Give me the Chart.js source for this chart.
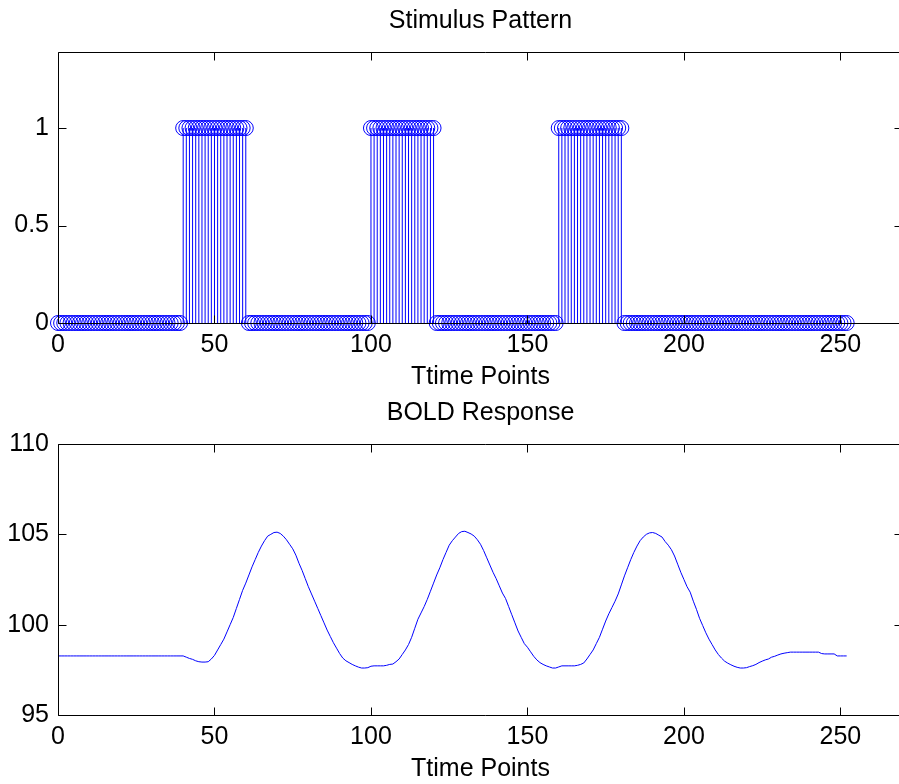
<!DOCTYPE html>
<html>
<head>
<meta charset="utf-8">
<title>Stimulus Pattern / BOLD Response</title>
<script src="https://cdn.jsdelivr.net/npm/chart.js@4/dist/chart.umd.min.js"></script>
<style>
html, body { margin: 0; padding: 0; background: #fff; overflow: hidden; }
#wrap { position: relative; width: 899px; height: 784px; overflow: hidden; }
canvas { position: absolute; left: 0; }
#stimChart { top: 0; }
#boldChart { top: 392px; }
</style>
</head>
<body>
<div id="wrap">
<canvas id="stimChart" width="913" height="392"></canvas>
<canvas id="boldChart" width="913" height="392"></canvas>
</div>
<script>
// tick labels
var xTicks = [0, 50, 100, 150, 200, 250];
var stimTicks = [0, 0.5, 1];
var boldTicks = [95, 100, 105, 110];

// stimulus (one value per time point, 0..252)
var stimulus = [
	0,0,0,0,0,0,0,0,0,0,  0,0,0,0,0,0,0,0,0,0,
	0,0,0,0,0,0,0,0,0,0,  0,0,0,0,0,0,0,0,0,0,
	1,1,1,1,1,1,1,1,1,1,  1,1,1,1,1,1,1,1,1,1,
	1,0,0,0,0,0,0,0,0,0,  0,0,0,0,0,0,0,0,0,0,
	0,0,0,0,0,0,0,0,0,0,  0,0,0,0,0,0,0,0,0,0,
	1,1,1,1,1,1,1,1,1,1,  1,1,1,1,1,1,1,1,1,1,
	1,0,0,0,0,0,0,0,0,0,  0,0,0,0,0,0,0,0,0,0,
	0,0,0,0,0,0,0,0,0,0,  0,0,0,0,0,0,0,0,0,0,
	1,1,1,1,1,1,1,1,1,1,  1,1,1,1,1,1,1,1,1,1,
	1,0,0,0,0,0,0,0,0,0,  0,0,0,0,0,0,0,0,0,0,
	0,0,0,0,0,0,0,0,0,0,  0,0,0,0,0,0,0,0,0,0,
	0,0,0,0,0,0,0,0,0,0,  0,0,0,0,0,0,0,0,0,0,
	0,0,0,0,0,0,0,0,0,0,  0,0,0
];

// BOLD response (one value per time point, 0..252)
var bold = [
	98.27,98.27,98.27,98.27,98.27,98.27,98.27,98.27,98.27,98.27,
	98.27,98.27,98.27,98.27,98.27,98.27,98.27,98.27,98.27,98.27,
	98.27,98.27,98.27,98.27,98.27,98.27,98.27,98.27,98.27,98.27,
	98.27,98.27,98.27,98.27,98.27,98.27,98.27,98.27,98.27,98.27,
	98.27,98.2,98.13,98.08,98.0,97.95,97.93,97.93,97.95,98.1,
	98.3,98.6,98.9,99.2,99.6,100.0,100.4,100.9,101.4,101.9,
	102.3,102.75,103.2,103.6,104.0,104.35,104.65,104.9,105.0,105.1,
	105.12,105.05,104.9,104.7,104.45,104.2,103.85,103.4,103.0,102.55,
	102.1,101.7,101.3,100.9,100.5,100.1,99.7,99.35,99.0,98.7,
	98.4,98.15,98.0,97.9,97.8,97.72,97.65,97.6,97.6,97.62,
	97.7,97.72,97.72,97.72,97.72,97.75,97.8,97.82,97.95,98.1,
	98.35,98.6,98.9,99.3,99.8,100.3,100.65,101.0,101.4,101.85,
	102.3,102.75,103.15,103.6,104.0,104.4,104.65,104.85,105.05,105.15,
	105.17,105.1,105.02,104.9,104.7,104.45,104.1,103.7,103.3,102.9,
	102.55,102.15,101.75,101.45,101.0,100.55,100.1,99.65,99.3,98.95,
	98.75,98.5,98.25,98.05,97.9,97.8,97.72,97.66,97.6,97.6,
	97.66,97.72,97.72,97.72,97.72,97.72,97.75,97.8,97.88,98.1,
	98.35,98.6,98.95,99.3,99.75,100.2,100.6,100.95,101.3,101.7,
	102.2,102.7,103.15,103.6,104.0,104.35,104.65,104.85,105.0,105.08,
	105.1,105.05,104.95,104.85,104.6,104.4,104.15,103.8,103.35,102.9,
	102.5,102.1,101.8,101.3,100.85,100.35,99.95,99.55,99.2,98.9,
	98.6,98.35,98.15,97.98,97.87,97.78,97.7,97.64,97.6,97.6,
	97.62,97.68,97.73,97.8,97.9,97.98,98.05,98.1,98.2,98.25,
	98.32,98.38,98.42,98.45,98.48,98.48,98.48,98.48,98.48,98.48,
	98.48,98.48,98.48,98.48,98.4,98.38,98.38,98.38,98.38,98.27,
	98.27,98.27,98.27
];

Chart.defaults.font.family = '"Liberation Sans", Arial, Helvetica, sans-serif';
Chart.defaults.font.size = 25;
Chart.defaults.color = '#000';

function toPoints(arr) {
	return arr.map(function(v, i) { return {x: i, y: v}; });
}

// matlab style axes with inward ticks; the right edge of the box lies
// outside the figure in the original, so only its ticks are drawn
var boxPlugin = {
	id: 'box',
	afterDatasetsDraw: function(chart) {
		var ctx = chart.ctx, a = chart.chartArea;
		var xs = chart.scales.x, ys = chart.scales.y;
		var l = Math.round(a.left) + 0.5, r = Math.round(a.right) - 0.5;
		var t = Math.round(a.top) + 0.5, b = Math.round(a.bottom) + 0.5;
		var w = chart.width;
		ctx.save();
		ctx.strokeStyle = '#000';
		ctx.lineWidth = 1;
		ctx.beginPath();
		ctx.moveTo(w, t); ctx.lineTo(l, t); ctx.lineTo(l, b); ctx.lineTo(w, b);
		xs.ticks.forEach(function(tk) {
			var px = Math.round(xs.getPixelForValue(tk.value)) + 0.5;
			ctx.moveTo(px, b); ctx.lineTo(px, b - 8);
			ctx.moveTo(px, t); ctx.lineTo(px, t + 8);
		});
		ys.ticks.forEach(function(tk) {
			var py = Math.round(ys.getPixelForValue(tk.value)) + 0.5;
			ctx.moveTo(l, py); ctx.lineTo(l + 8, py);
			ctx.moveTo(r, py); ctx.lineTo(r - 8, py);
		});
		ctx.stroke();
		ctx.restore();
	}
};

function makeOptions(title, yMin, yMax, yTicks) {
	return {
		responsive: false,
		animation: false,
		// canvas is wider than the page; the axes box ends just past the right edge
		layout: { autoPadding: false, padding: { left: 0, right: 10, top: 0, bottom: 0 } },
		plugins: {
			legend: { display: false },
			tooltip: { enabled: false },
			title: {
				display: true,
				text: title,
				fullSize: false,
				color: '#000',
				font: { size: 25, weight: 'normal' },
				padding: { top: 6, bottom: 16 }
			}
		},
		scales: {
			x: {
				type: 'linear',
				min: 0,
				max: 270,
				offset: false,
				grid: { display: false, drawTicks: false },
				border: { display: false },
				afterBuildTicks: function(s) { s.ticks = xTicks.map(function(v) { return {value: v}; }); },
				afterFit: function(s) {
					s.height = 69;
					s.paddingLeft = 0;
					s.paddingRight = 0;
				},
				ticks: { padding: 7, maxRotation: 0, autoSkip: false },
				title: { display: true, text: 'Ttime Points', padding: { top: 0, bottom: 0 } }
			},
			y: {
				type: 'linear',
				min: yMin,
				max: yMax,
				grid: { display: false, drawTicks: false },
				border: { display: false },
				afterBuildTicks: function(s) { s.ticks = yTicks.map(function(v) { return {value: v}; }); },
				afterFit: function(s) { s.width = 58; },
				ticks: { padding: 9, callback: function(v) { return String(v); } }
			}
		}
	};
}

// top: stem plot
new Chart(document.getElementById('stimChart').getContext('2d'), {
	type: 'bar',
	data: {
		datasets: [{
			type: 'line',
			data: toPoints(stimulus),
			showLine: false,
			pointStyle: 'circle',
			pointRadius: 7.5,
			pointBorderWidth: 1,
			pointBorderColor: 'rgb(0,0,255)',
			pointBackgroundColor: 'rgba(0,0,0,0)',
			clip: false
		}, {
			type: 'bar',
			data: toPoints(stimulus),
			backgroundColor: 'rgb(0,0,255)',
			borderWidth: 0,
			inflateAmount: 0,
			barThickness: 1
		}]
	},
	options: makeOptions('Stimulus Pattern', 0, 1.39, stimTicks),
	plugins: [boxPlugin]
});

// bottom: BOLD response
new Chart(document.getElementById('boldChart').getContext('2d'), {
	type: 'bar',
	data: {
		datasets: [{
			type: 'line',
			data: toPoints(bold),
			borderColor: 'rgb(0,0,255)',
			borderWidth: 1,
			pointRadius: 0,
			tension: 0,
			fill: false
		}]
	},
	options: makeOptions('BOLD Response', 95, 110, boldTicks),
	plugins: [boxPlugin]
});
</script>
</body>
</html>
